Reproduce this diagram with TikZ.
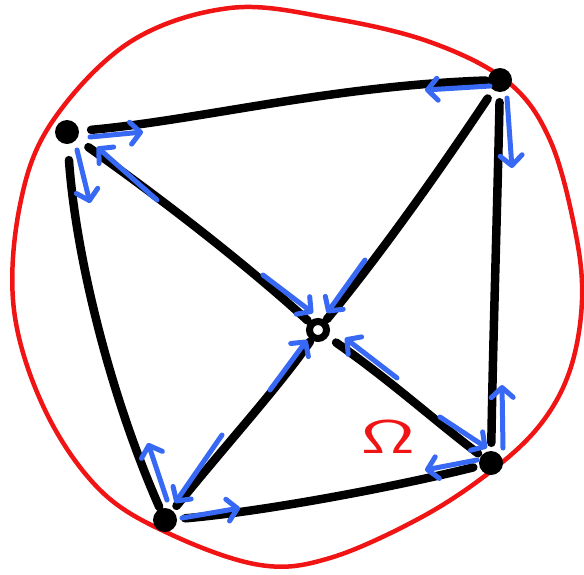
\documentclass[tikz,border=0pt]{standalone}
\usetikzlibrary{arrows.meta}
\definecolor{pen}{RGB}{55,105,245}
\definecolor{redpen}{RGB}{240,20,20}
\begin{document}
\begin{tikzpicture}[x=1pt,y=-1pt,
  vtx/.style={circle,fill=black,inner sep=0pt,minimum size=24pt},
  ctr/.style={circle,draw=black,line width=7pt,fill=white,inner sep=0pt,minimum size=17pt},
  edge/.style={line width=8.5pt,line cap=round,draw=black},
  flow/.style={line width=5pt,line cap=round,line join=round,draw=pen,-{Straight Barb[length=10pt,width=22pt,line width=5pt,round]}},
  boundary/.style={line width=4.5pt,draw=redpen}]
\useasboundingbox (0,0) rectangle (584,574);
% domain boundary
\draw[boundary] plot[smooth cycle,tension=0.6] coordinates {
 (230,8) (330,18) (430,42) (508,82) (550,140) (575,230) (582,300)
 (570,370) (540,425) (490,472) (420,518) (330,558) (260,565) (170,534)
 (100,490) (45,410) (14,310) (20,205) (52,122) (130,42)};
% vertices
\node[vtx] (A) at (67,132) {};
\node[vtx] (B) at (500,80) {};
\node[vtx] (C) at (491,463) {};
\node[vtx] (D) at (165,520) {};
\node[ctr] (O) at (318,330) {};
% edges
\draw[edge,shorten <=12pt,shorten >=2pt] (A) .. controls (200,120) and (330,86) .. (B);
\draw[edge,shorten <=16pt,shorten >=2pt] (A) .. controls (76,260) and (112,400) .. (D);
\draw[edge,shorten <=10pt,shorten >=8pt] (B) .. controls (497,220) and (493,340) .. (C);
\draw[edge,shorten <=8pt,shorten >=6pt] (D) .. controls (260,512) and (390,488) .. (C);
\draw[edge,shorten <=14pt,shorten >=2pt] (A) .. controls (170,205) and (250,268) .. (O);
\draw[edge,shorten <=10pt,shorten >=2pt] (B) .. controls (440,170) and (380,255) .. (O);
\draw[edge,shorten <=4pt,shorten >=10pt] (C) .. controls (440,425) and (390,380) .. (O);
\draw[edge,shorten <=6pt,shorten >=2pt] (D) .. controls (230,440) and (280,385) .. (O);
% flux arrows
\draw[flow] (90,137) -- (143,132);
\draw[flow] (157,200) -- (97,147);
\draw[flow] (77,150) -- (90,203);
\draw[flow] (490,86) -- (425,90);
\draw[flow] (507,98) -- (512,168);
\draw[flow] (263,275) -- (313,313);
\draw[flow] (365,260) -- (327,313);
\draw[flow] (270,390) -- (307,340);
\draw[flow] (397,378) -- (345,338);
\draw[flow] (440,417) -- (487,448);
\draw[flow] (503,448) -- (502,385);
\draw[flow] (477,460) -- (425,470);
\draw[flow] (167,500) -- (148,443);
\draw[flow] (222,435) -- (175,503);
\draw[flow] (182,518) -- (240,508);
% label
\node[text=redpen,xscale=3.2,yscale=1.9,inner sep=0pt] (omega) at (388,437) {\Huge$\mathsf{\Omega}$};
\end{tikzpicture}
\end{document}
